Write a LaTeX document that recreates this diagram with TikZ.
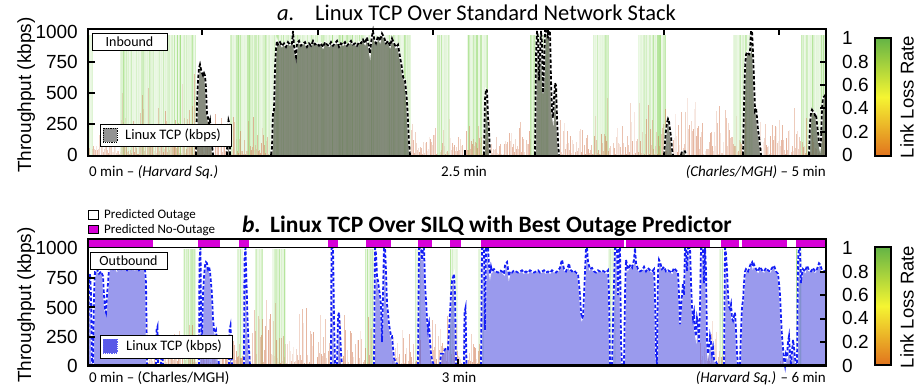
\documentclass[tikz,border=0pt]{standalone}
\usepackage{fontspec}
\setmainfont{Carlito}
\newfontfamily\hv{Liberation Sans}
\definecolor{lgreen}{RGB}{140,215,100}
\definecolor{lorange}{RGB}{210,120,80}
\definecolor{afillc}{RGB}{105,112,95}
\definecolor{bfillc}{RGB}{100,100,228}
\definecolor{bline}{RGB}{20,30,245}
\definecolor{mag}{RGB}{215,0,215}
\definecolor{cbgreen}{RGB}{100,180,70}
\definecolor{cbyellow}{RGB}{245,245,50}
\definecolor{cborange}{RGB}{225,115,30}
\newcommand\ablob[1]{%
  \fill[afillc, fill opacity=0.8] plot coordinates {#1};
  \draw[white, line width=1.8pt] plot coordinates {#1};
  \draw[black, line width=1.8pt, dash pattern=on 3.5pt off 2pt] plot coordinates {#1};}
\newcommand\bblob[1]{%
  \fill[bfillc, fill opacity=0.65] plot coordinates {#1};
  \draw[white, line width=1.8pt] plot coordinates {#1};
  \draw[bline, line width=1.8pt, dash pattern=on 3.5pt off 2pt] plot coordinates {#1};}
\begin{document}
\begin{tikzpicture}[x=1pt,y=-1pt,
  ylab/.style={font=\hv\fontsize{19}{19}\selectfont, anchor=east, inner sep=0pt},
  clab/.style={font=\hv\fontsize{19}{19}\selectfont, anchor=west, inner sep=0pt},
  axname/.style={font=\hv\fontsize{19}{19}\selectfont, anchor=base, inner sep=0pt, rotate=90},
  xlab/.style={font=\fontsize{15}{15}\selectfont, inner sep=0pt},
  ttl/.style={font=\fontsize{22.5}{22.5}\selectfont, anchor=base west, inner sep=0pt},
  ttlb/.style={font=\bfseries\fontsize{23.5}{23.5}\selectfont, anchor=base west, inner sep=0pt},
  boxlab/.style={draw=black, line width=0.9pt, fill=white, inner sep=0pt, font=\fontsize{14}{14}\selectfont},
  axtick/.style={line width=1.6pt},
  frameline/.style={line width=2.5pt},
  greenline/.style={lgreen, line width=0.8pt},
  orline/.style={lorange, line width=0.8pt}]
\useasboundingbox (0,0) rectangle (917,390);
\fill[white] (0,0) rectangle (917,390);

%================ PANEL A =================
\begin{scope}[shift={(0,155)}, y=0.124pt]
  \pgfmathsetseed{11}
  \foreach \a/\b in {88/92,120/195,230/410,437/449,467/487,530/548,593/608,638/665,733/752,801/825}{
    \foreach \x in {\a,...,\b}{
      \pgfmathsetmacro\op{0.15+0.65*rnd*rnd}
      \draw[greenline, opacity=\op] (\x+0.3,0) -- (\x+0.3,970);
    }}
  \foreach \a/\b/\h in {89/120/300,120/195/700,196/272/420,410/437/330,440/530/320,560/592/360,593/640/520,641/700/600,701/745/520,760/810/420,811/825/300}{
    \foreach \x in {\a,...,\b}{
      \pgfmathsetmacro\hh{\h*rnd*rnd}
      \pgfmathsetmacro\op{0.12+0.45*rnd}
      \draw[orline, opacity=\op] (\x+0.6,0) -- (\x+0.6,\hh);
    }}
  \ablob{(196,0) (197,420) (198,600) (199,700) (200,730) (201,690) (202,660) (203,640) (204,660) (205,640) (206,540) (207,330) (208,300) (209,250) (210,280) (211,150) (212,80) (213,0)}
  \ablob{(227,0) (227.5,200) (228.5,280) (229.5,250) (230,0)}
  \ablob{(271,0) (272,60) (273,350) (274,360) (275,700) (276,860) (277,920) (278,890) (280,910) (282,880) (284,900) (286,870) (288,910) (290,890) (292,900) (293,1000) (294,880) (296,790) (297,900) (299,920) (301,880) (303,900) (305,910) (307,870) (309,900) (311,880) (313,920) (315,890) (317,900) (319,880) (321,900) (323,870) (325,910) (327,890) (329,880) (331,910) (333,880) (335,900) (337,920) (339,870) (341,900) (343,890) (345,910) (347,880) (349,900) (351,920) (353,890) (355,900) (357,880) (359,910) (361,900) (363,930) (365,900) (367,950) (369,870) (370,820) (371,900) (372,960) (373,1000) (374,940) (376,900) (378,960) (380,920) (382,980) (384,950) (386,900) (388,920) (390,880) (392,940) (394,900) (396,870) (398,890) (400,790) (402,700) (403,630) (405,600) (406,520) (407,430) (408,270) (409,100) (410,0)}
  \ablob{(484,0) (485,450) (486,530) (487,520) (488,300) (489,200) (490,0)}
  \ablob{(535,0) (536,800) (537,1000) (538,950) (539,600) (540,800) (541,1000) (542,900) (543,500) (544,700) (545,1000) (546,1000) (548,950) (549,1000) (550,1000) (551,600) (552,350) (553,300) (554,450) (555,580) (556,560) (557,300) (558,100) (559,0)}
  \ablob{(664,0) (665,100) (666,200) (667,260) (668,290) (669,270) (670,200) (671,150) (672,50) (673,0)}
  \ablob{(681,0) (682,30) (685,30) (686,0)}
  \ablob{(743,0) (744,400) (745,700) (746,810) (747,830) (749,810) (750,830) (751,1000) (752,1000) (753,820) (754,600) (755,360) (756,380) (757,300) (758,200) (759,150) (760,80) (761,0)}
  \ablob{(809,0) (810,250) (811,340) (812,365) (814,340) (815,320) (816,330) (817,250) (818,180) (819,100) (820,60) (821,120) (822,380) (823,460) (825,480) (826,470) (826,0)}
\end{scope}
% frame a
\draw[frameline] (88,29) rectangle (826,156);
\foreach \t in {202,318,433,548,664,779} \draw[axtick] (\t,29) -- (\t,35);
\draw[axtick] (465,156) -- (465,150);
\foreach \t in {62,93,124} \draw[axtick] (88,\t) -- (95,\t);
\foreach \t in {62,85,108,132} \draw[axtick] (826,\t) -- (820,\t);
\node[boxlab, minimum width=75pt, minimum height=17pt] (inb) at (129.5,41.5) {Inbound};
\node[boxlab, minimum width=131pt, minimum height=22pt] (lega) at (165.5,135) {};
\draw[black, densely dotted, line width=0.8pt, fill=gray!85] (103,128) rectangle (117,142);
\node[font=\fontsize{14.5}{14.5}\selectfont, anchor=west, inner sep=0pt] (legat) at (125,135) {Linux TCP (kbps)};

%================ PANEL B =================
\begin{scope}[shift={(0,365.5)}, y=0.1175pt]
  \pgfmathsetseed{23}
  \foreach \a/\b in {183/195,237/242,255/262,272/285,365/373,415/420,450/457,478/483,608/615,719/722,796/801}{
    \foreach \x in {\a,...,\b}{
      \pgfmathsetmacro\op{0.15+0.6*rnd*rnd}
      \draw[greenline, opacity=\op] (\x+0.3,0) -- (\x+0.3,990);
    }}
  \foreach \a/\b/\h in {147/199/520,200/244/380,250/330/680,335/375/520,392/420/420,430/480/620,700/725/460,780/798/220}{
    \foreach \x in {\a,...,\b}{
      \pgfmathsetmacro\hh{\h*rnd*rnd}
      \pgfmathsetmacro\op{0.12+0.5*rnd}
      \draw[orline, opacity=\op] (\x+0.6,0) -- (\x+0.6,\hh);
    }}
  \bblob{(88,0) (89,700) (90,780) (91,600) (92,0) (93,0) (94,600) (95,800) (97,820) (99,780) (101,800) (103,760) (104,600) (105,480) (106,450) (107,600) (108,700) (109,820) (111,840) (113,820) (115,850) (117,810) (119,840) (121,820) (123,850) (125,830) (127,810) (129,840) (131,820) (133,850) (135,820) (137,840) (139,810) (141,830) (143,850) (145,820) (146,700) (147,0)}
  \bblob{(156,0) (156.5,300) (157.5,330) (158,0)}
  \bblob{(161,0) (161.5,100) (162.5,100) (163,0)}
  \bblob{(199,0) (199.5,900) (200.5,1000) (201,400) (202,200) (203,600) (204,750) (205,850) (206,880) (207,870) (208,820) (209,840) (210,800) (211,700) (212,600) (213,400) (214,300) (215,280) (216,300) (217,200) (218,100) (219,0)}
  \bblob{(229,0) (229.5,300) (230.5,340) (231,250) (232,0)}
  \bblob{(244,0) (244.5,900) (245.5,1000) (246.5,700) (247.5,400) (248.5,200) (250,0)}
  \bblob{(331,0) (331.5,1000) (333,1000) (334,400) (335,0)}
  \bblob{(337,0) (338,420) (339,450) (340,300) (341,100) (342,0)}
  \bblob{(374,0) (375,1000) (376,950) (377,750) (378,720) (379,650) (380,600) (381,500) (382,200) (383,600) (384,1000) (385,1000) (386,800) (387,520) (388,450) (389,350) (390,300) (391,250) (392,250) (393,150) (394,60) (396,30) (398,0)}
  \bblob{(418,0) (419,1000) (421,1000) (422,900) (423,1000) (424,1000) (425,700) (426,550) (427,400) (428,300) (429,350) (430,200) (431,100) (432,50) (434,0)}
  \bblob{(440,0) (441,100) (443,100) (444,120) (446,150) (448,140) (449,300) (450,450) (451,600) (452,720) (453,750) (454,780) (455,600) (456,0)}
  \bblob{(464,0) (464.5,450) (465.5,490) (466.5,0)}
  \bblob{(481,0) (482,1000) (484,1000) (485,300) (486,1000) (488,1000) (489,850) (490,780) (491,840) (492,800) (494,820) (496,800) (498,790) (500,810) (502,800) (504,780) (505,850) (506,870) (507,880) (508,820) (509,760) (510,800) (512,790) (514,810) (516,800) (518,790) (520,800) (522,810) (524,790) (526,800) (528,790) (530,810) (532,800) (534,790) (536,800) (538,810) (540,790) (542,800) (544,810) (546,790) (548,800) (550,790) (552,810) (554,800) (556,790) (558,810) (560,830) (561,870) (562,900) (563,860) (564,820) (566,800) (568,840) (569,870) (570,820) (572,800) (574,810) (576,790) (578,780) (580,600) (581,450) (582,400) (583,420) (584,600) (585,800) (586,1000) (587,1000) (588,880) (589,850) (590,820) (592,830) (594,800) (596,790) (598,810) (600,800) (602,810) (604,800) (606,790) (608,810) (609,600) (610,0) (612,0) (614,700) (615,1000) (617,1000) (618,600) (619,1000) (620,1000) (621,200) (622,0) (624,0) (625,600) (626,900) (627,860) (628,820) (630,850) (632,830) (634,900) (635,1000) (636,870) (638,820) (640,800) (642,810) (644,840) (646,800) (648,830) (650,810) (652,800) (654,820) (655,600) (656,100) (657,0) (658,800) (659,900) (660,880) (662,820) (664,840) (666,800) (668,810) (670,800) (672,790) (674,830) (676,810) (678,790) (679,600) (680,350) (681,500) (682,600) (683,700) (684,600) (685,1000) (686,1000) (687,800) (688,1000) (689,1000) (690,1000) (691,700) (692,500) (693,400) (694,450) (695,300) (696,250) (697,400) (698,350) (699,200) (700,500) (701,1000) (703,1000) (704,700) (705,1000) (706,800) (707,200) (708,100) (709,150) (710,250) (711,200) (712,100) (713,150) (714,50) (716,30) (718,0)}
  \bblob{(724,0) (725,1000) (726,950) (727,800) (728,600) (729,500) (730,480) (731,520) (732,400) (733,380) (734,420) (735,450) (736,300) (737,100) (738,0) (740,0) (741,300) (742,500) (743,550) (744,700) (745,800) (746,820) (748,800) (750,850) (751,870) (752,880) (753,840) (754,860) (756,820) (758,800) (760,840) (762,810) (764,800) (766,830) (768,810) (770,800) (772,830) (774,850) (776,800) (778,780) (779,700) (780,600) (781,400) (782,250) (783,150) (784,50) (785,0) (786,100) (787,80) (788,200) (789,250) (790,100) (791,0) (792,120) (793,220) (794,150) (795,60) (796,0) (797,0) (798,900) (799,1000) (800,1000) (801,700) (802,780) (803,820) (805,800) (807,850) (809,810) (811,800) (813,830) (815,800) (817,820) (819,870) (820,860) (822,810) (824,800) (826,810) (826,0)}
\end{scope}
% purple prediction bar
\foreach \a/\b in {88/153,198/220,239/249,328/338,366/391,418/432,450/461,481/624,626/710,721/739,742/787,796/826}
  \fill[mag] (\a,239) rectangle (\b,247);
\draw[line width=1.6pt] (88,247.5) -- (826,247.5);
\draw[frameline] (88,239) rectangle (826,365.5);
\draw[axtick] (458,365.5) -- (458,359);
\foreach \t in {278,307,337} \draw[axtick] (88,\t) -- (95,\t);
\foreach \t in {272,295,319,342} \draw[axtick] (826,\t) -- (820,\t);
\node[boxlab, minimum width=77pt, minimum height=17pt] (outb) at (128.5,261) {Outbound};
\node[boxlab, minimum width=132pt, minimum height=23pt] (legb) at (166,346.5) {};
\draw[bline!70!white, densely dotted, line width=0.8pt, fill=bfillc!90!blue] (103,339) rectangle (117,353);
\node[font=\fontsize{14.5}{14.5}\selectfont, anchor=west, inner sep=0pt] (legbt) at (126,346.5) {Linux TCP (kbps)};

% prediction legend
\draw[line width=0.8pt, fill=white] (88,210) rectangle (98,219);
\node[font=\fontsize{13}{13}\selectfont, anchor=base west, inner sep=0pt] (po) at (104,218.5) {Predicted Outage};
\draw[line width=0.8pt, fill=mag] (88,225) rectangle (98,233.5);
\node[font=\fontsize{13}{13}\selectfont, anchor=base west, inner sep=0pt] (pno) at (104,233) {Predicted No-Outage};

%================ Titles =================
\node[ttl] (ta1) at (277,21) {\textit{a.}};
\node[ttl] (ta2) at (315,21) {Linux TCP Over Standard Network Stack};
\node[ttlb] (tb1) at (242,232) {\textit{b.}};
\node[ttlb] (tb2) at (270,232) {Linux TCP Over SILQ with Best Outage Predictor};

%================ Axis labels =================
\node[ylab] (a1000) at (78,32) {1000};
\node[ylab] (a750) at (78,62) {750};
\node[ylab] (a500) at (78,93) {500};
\node[ylab] (a250) at (78,124) {250};
\node[ylab] (a0) at (78,155) {0};
\node[ylab] (b1000) at (78,248) {1000};
\node[ylab] (b750) at (78,278) {750};
\node[ylab] (b500) at (78,308) {500};
\node[ylab] (b250) at (78,337) {250};
\node[ylab] (b0) at (78,366) {0};
\node[axname] (tha) at (31,95) {Throughput (kbps)};
\node[axname] (thb) at (31,305) {Throughput (kbps)};

\node[xlab, anchor=base west] (xa0) at (89,176) {0 min -- \textit{(Harvard Sq.)}};
\node[xlab, anchor=base] (xa1) at (464,176) {2.5 min};
\node[xlab, anchor=base east] (xa2) at (826,176) {\textit{(Charles/MGH)} -- 5 min};
\node[xlab, anchor=base west] (xb0) at (89,382) {0 min -- (Charles/MGH)};
\node[xlab, anchor=base] (xb1) at (459,382) {3 min};
\node[xlab, anchor=base east] (xb2) at (826,382) {\textit{(Harvard Sq.)} -- 6 min};

%================ Colorbars =================
\shade[top color=cbgreen, bottom color=cborange, middle color=cbyellow] (875,38) rectangle (891,156);
\draw[line width=1.2pt] (875,38) rectangle (891,156);
\shade[top color=cbgreen, bottom color=cborange, middle color=cbyellow] (875,247) rectangle (891,365);
\draw[line width=1.2pt] (875,247) rectangle (891,365);
\foreach \v/\yy [count=\i] in {1/38,0.8/62,0.6/85,0.4/108,0.2/132,0/155}
  \node[clab] (ca\i) at (842,\yy) {\v};
\foreach \v/\yy [count=\i] in {1/248,0.8/272,0.6/295,0.4/318,0.2/342,0/366}
  \node[clab] (cb\i) at (842,\yy) {\v};
\node[axname, font=\hv\fontsize{18.5}{18.5}\selectfont] (lla) at (913.5,97) {Link Loss Rate};
\node[axname, font=\hv\fontsize{18.5}{18.5}\selectfont] (llb) at (913.5,307) {Link Loss Rate};
\end{tikzpicture}
\end{document}
